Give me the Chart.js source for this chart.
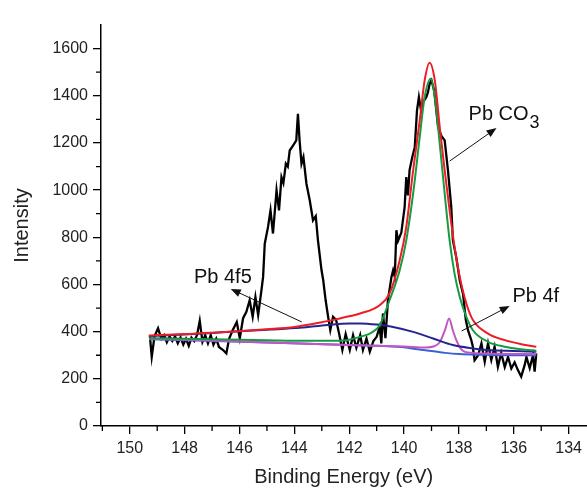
<!DOCTYPE html>
<html>
<head>
<meta charset="utf-8">
<script src="https://cdn.jsdelivr.net/npm/chart.js@4.4.1/dist/chart.umd.min.js"></script>
<style>
  html, body { margin: 0; padding: 0; background: #fff; }
  #wrap { width: 587px; height: 488px; }
</style>
</head>
<body>
<div id="wrap"><canvas id="xps" width="587" height="488"></canvas></div>
<script>
// tick labels
const xTicks = [150, 148, 146, 144, 142, 140, 138, 136, 134];
const yTicks = [0, 200, 400, 600, 800, 1000, 1200, 1400, 1600];

// measured spectrum (black)
const blackX = [
  149.27,149.2,149.1,148.97,148.85,148.75,148.65,148.55,148.45,148.35,
  148.25,148.15,148.05,147.95,147.85,147.75,147.65,147.55,147.45,147.35,
  147.25,147.15,147.05,146.95,146.85,146.75,146.6,146.48,146.38,146.25,
  146.1,145.99,145.87,145.75,145.63,145.52,145.42,145.32,145.2,145.14,
  145.08,144.96,144.87,144.78,144.65,144.56,144.47,144.4,144.31,144.24,
  144.17,144.05,143.93,143.87,143.81,143.74,143.67,143.56,143.44,143.32,
  143.22,143.14,143.01,142.95,142.86,142.77,142.69,142.59,142.48,142.37,
  142.25,142.13,141.98,141.86,141.74,141.6,141.5,141.37,141.25,141.12,
  141.0,140.89,140.83,140.77,140.68,140.59,140.46,140.4,140.34,140.28,
  140.22,140.1,139.98,139.92,139.86,139.8,139.7,139.61,139.53,139.46,
  139.38,139.31,139.19,139.13,139.07,139.0,138.9,138.76,138.64,138.52,
  138.4,138.28,138.22,138.1,137.97,137.85,137.75,137.67,137.55,137.5,
  137.43,137.3,137.18,137.06,136.94,136.82,136.7,136.58,136.46,136.33,
  136.21,136.09,135.97,135.85,135.73,135.6,135.54,135.42,135.3,135.24,
  135.18
];
const blackY = [
  385,293,380,414,370,385,355,380,360,380,
  350,375,345,370,340,375,360,385,446,357,
  385,350,385,345,370,335,322,308,370,406,
  441,372,457,484,533,463,547,470,576,632,
  773,844,914,816,999,914,1055,1030,1112,1100,
  1168,1189,1211,1323,1211,1112,1140,1027,957,872,
  890,787,660,620,533,463,406,463,450,392,
  322,390,322,385,332,385,322,371,315,360,
  378,420,350,477,372,533,632,660,632,830,
  785,820,928,1055,978,1085,1140,1182,1337,1394,
  1337,1373,1394,1415,1450,1465,1420,1267,1230,1211,
  1084,928,787,717,618,560,450,406,364,340,
  279,300,350,272,350,280,336,251,310,250,
  293,244,270,237,209,260,293,245,300,230,
  308
];

// fitted envelope (red)
const redX = [149.3,148,146.5,145,144,143,142.5,142,141.6,140.89,140.53,140.16,139.92,139.67,139.43,139.25,139.07,138.88,138.7,138.52,138.34,138.16,137.97,137.73,137.49,136.94,136.33,135.73,135.18];
const redY = [384,390,398,410,420,440,452,465,477,512,562,703,844,1084,1295,1465,1540,1465,1267,1084,914,759,632,519,449,392,364,347,336];

// Pb CO3 component (green)
const greenX = [149.3,147,145,143.8,142.5,142.1,141.6,141.2,140.9,140.53,140.16,139.92,139.67,139.43,139.25,139.03,138.88,138.7,138.52,138.34,138.16,137.97,137.73,137.49,136.94,136.33,135.73,135.18];
const greenY = [372,368,364,361,361,364,378,395,425,533,660,787,985,1225,1394,1472,1394,1196,985,787,646,547,463,406,357,336,325,319];

// Pb 4f5 component (navy)
const navyX = [149.3,148,146.5,145,143.8,142.8,142,141.6,141,140.4,139.67,138.94,138.22,137.49,136.94,136,135.18];
const navyY = [381,388,398,408,416,428,435,435,430,420,399,371,343,329,322,318,315];

// Pb 4f component (magenta)
const pinkX = [149.3,147,145,143.8,142,140,139.2,138.9,138.7,138.6,138.5,138.36,138.22,138.1,137.95,137.8,137.5,137,136,135.18];
const pinkY = [370,362,354,350,343,337,333,338,355,380,410,456,405,365,330,315,310,307,305,305];

// background (blue)
const bgX = [149.3,145,142,140,139.5,139,138.5,138,137,136,135.18];
const bgY = [368,354,343,334,325,318,310,305,302,300,300];

const notes = [
  { text: 'Pb 4f5', sub: '', at: [147.66, 606], from: [143.73, 441], to: [146.32, 581] },
  { text: 'Pb CO', sub: '3', at: [137.65, 1297], from: [138.34, 1123], to: [136.63, 1263] },
  { text: 'Pb 4f', sub: '', at: [136.05, 526], from: [137.9, 403], to: [136.15, 509] }
];

const FONT = "'Liberation Sans', Arial, sans-serif";

function pts(xs, ys) {
  return xs.map(function(x, i) { return { x: x, y: ys[i] }; });
}

function line(xs, ys, color, order, smooth, width) {
  return {
    data: pts(xs, ys),
    borderColor: color,
    borderWidth: width || 2,
    pointRadius: 0,
    fill: false,
    order: order,
    tension: 0,
    cubicInterpolationMode: smooth ? 'monotone' : 'default'
  };
}

// minor ticks + arrows and labels
const extras = {
  id: 'extras',
  afterDraw(chart) {
    const c = chart.ctx;
    const xs = chart.scales.x, ys = chart.scales.y;
    c.save();
    c.strokeStyle = '#000';
    c.lineWidth = 1.3;
    c.beginPath();
    for (let v = 100; v < ys.max; v += 200) {
      const p = ys.getPixelForValue(v);
      c.moveTo(xs.left - 5, p); c.lineTo(xs.left, p);
    }
    for (let v = Math.ceil(xs.min); v <= xs.max; v++) {
      if (v % 2 === 0) continue;
      const p = xs.getPixelForValue(v);
      c.moveTo(p, ys.bottom); c.lineTo(p, ys.bottom + 5);
    }
    c.stroke();

    c.fillStyle = '#111';
    c.strokeStyle = '#111';
    c.lineWidth = 1;
    notes.forEach(function(n) {
      const x1 = xs.getPixelForValue(n.from[0]), y1 = ys.getPixelForValue(n.from[1]);
      const x2 = xs.getPixelForValue(n.to[0]), y2 = ys.getPixelForValue(n.to[1]);
      const a = Math.atan2(y2 - y1, x2 - x1);
      c.beginPath(); c.moveTo(x1, y1); c.lineTo(x2 - 6 * Math.cos(a), y2 - 6 * Math.sin(a)); c.stroke();
      c.beginPath();
      c.moveTo(x2, y2);
      c.lineTo(x2 - 10 * Math.cos(a) + 4 * Math.sin(a), y2 - 10 * Math.sin(a) - 4 * Math.cos(a));
      c.lineTo(x2 - 10 * Math.cos(a) - 4 * Math.sin(a), y2 - 10 * Math.sin(a) + 4 * Math.cos(a));
      c.closePath(); c.fill();

      const tx = xs.getPixelForValue(n.at[0]), ty = ys.getPixelForValue(n.at[1]);
      c.font = '20px ' + FONT;
      c.textAlign = 'left';
      c.textBaseline = 'alphabetic';
      c.fillText(n.text, tx, ty);
      if (n.sub) {
        const w = c.measureText(n.text).width;
        c.font = '18px ' + FONT;
        c.fillText(n.sub, tx + w + 1, ty + 8);
      }
    });
    c.restore();
  }
};

new Chart(document.getElementById('xps'), {
  type: 'line',
  data: {
    datasets: [
      line(blackX, blackY, '#000000', 10, false, 2.3),
      line(bgX, bgY, '#3a62d2', 5, true),
      line(pinkX, pinkY, '#c356c6', 4, true),
      line(navyX, navyY, '#25258f', 3, true),
      line(greenX, greenY, '#179a40', 2, true),
      line(redX, redY, '#ee1c24', 1, true)
    ]
  },
  options: {
    responsive: false,
    animation: false,
    events: [],
    layout: { padding: { top: 25, right: 0, left: 0, bottom: 0 } },
    plugins: { legend: { display: false }, tooltip: { enabled: false } },
    scales: {
      x: {
        type: 'linear',
        reverse: true,
        min: 133.35,
        max: 151.05,
        afterFit: function(s) { s.height = 62; },
        afterBuildTicks: function(s) {
          s.ticks = xTicks.map(function(v) { return { value: v }; });
        },
        grid: { drawOnChartArea: false, drawTicks: true, tickLength: 8, color: '#000', lineWidth: 1.3 },
        border: { display: true, color: '#000', width: 1.5 },
        ticks: { padding: 5, color: '#222', font: { family: FONT, size: 16 }, maxRotation: 0, autoSkip: false,
                 callback: function(v) { return String(v); } },
        title: { display: true, text: 'Binding Energy (eV)', color: '#222',
                 font: { family: FONT, size: 20, lineHeight: 1 }, padding: { top: 0, bottom: 1 } }
      },
      y: {
        min: 0,
        max: 1700,
        afterFit: function(s) { s.width = 101; },
        afterBuildTicks: function(s) {
          s.ticks = yTicks.map(function(v) { return { value: v }; });
        },
        grid: { drawOnChartArea: false, drawTicks: true, tickLength: 8, color: '#000', lineWidth: 1.3 },
        border: { display: true, color: '#000', width: 1.5 },
        ticks: { padding: 5, color: '#222', font: { family: FONT, size: 16 }, autoSkip: false,
                 callback: function(v) { return String(v); } },
        title: { display: true, text: 'Intensity', color: '#222',
                 font: { family: FONT, size: 20 }, padding: { top: 10, bottom: 0 } }
      }
    }
  },
  plugins: [extras]
});
</script>
</body>
</html>
